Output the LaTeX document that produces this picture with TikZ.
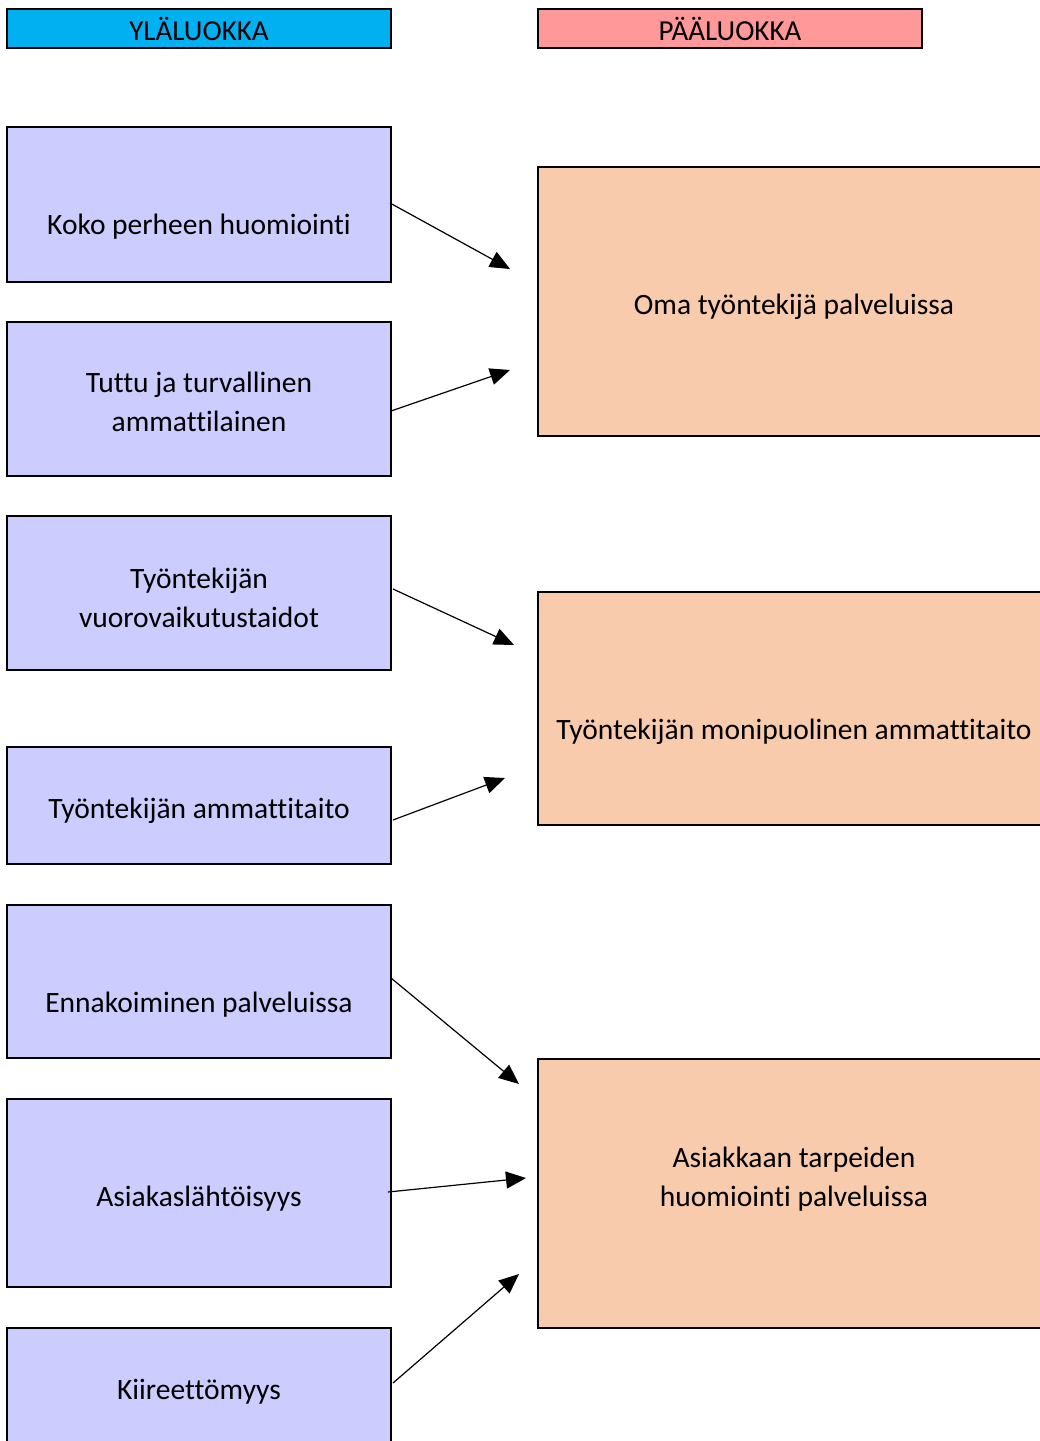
\documentclass[tikz,border=0pt]{standalone}
\usepackage{fontspec}
\setmainfont{Carlito}[Ligatures=NoCommon]
\usetikzlibrary{arrows.meta}
\definecolor{hdrL}{HTML}{00B0F0}
\definecolor{hdrR}{HTML}{FF9999}
\definecolor{lbox}{HTML}{CCCCFF}
\definecolor{rbox}{HTML}{F8CBAD}
\tikzset{
  hdr/.style={draw=black,line width=2pt,inner sep=0pt,minimum width=384pt,minimum height=39pt,font=\fontsize{29}{34}\selectfont},
  leftbox/.style={draw=black,line width=2pt,fill=lbox,inner sep=0pt,minimum width=384pt},
  rightbox/.style={draw=black,line width=2pt,fill=rbox,inner sep=0pt,minimum width=512pt},
  boxtext/.style={inner sep=0pt,align=center,font=\fontsize{29.5}{39}\selectfont},
  conn/.style={line width=1.2pt,-{Triangle[length=20pt,width=17pt]}}
}
\begin{document}
\begin{tikzpicture}[x=1pt,y=-1pt]
\useasboundingbox (0,0) rectangle (1040,1441);
% headers
\node[hdr,fill=hdrL] (h1) at (199,28.5) {YLÄLUOKKA};
\node[hdr,fill=hdrR] (h2) at (730,28.5) {PÄÄLUOKKA};
% left boxes
\node[leftbox,minimum height=155pt] (k1) at (199,204.5) {};
\node[leftbox,minimum height=154pt] (k2) at (199,399) {};
\node[leftbox,minimum height=154pt] (k3) at (199,593) {};
\node[leftbox,minimum height=117pt] (k4) at (199,805.5) {};
\node[leftbox,minimum height=153pt] (k5) at (199,981.5) {};
\node[leftbox,minimum height=188pt] (k6) at (199,1193) {};
\node[leftbox,minimum height=122pt] (k7) at (199,1389) {};
\node[boxtext] (t1) at (199,227) {Koko perheen huomiointi};
\node[boxtext] (t2) at (199,402) {Tuttu ja turvallinen\\ammattilainen};
\node[boxtext] (t3) at (199,597.5) {Työntekijän\\vuorovaikutustaidot};
\node[boxtext] (t4) at (199,810.5) {Työntekijän ammattitaito};
\node[boxtext] (t5) at (199,1004.5) {Ennakoiminen palveluissa};
\node[boxtext] (t6) at (199,1198.5) {Asiakaslähtöisyys};
\node[boxtext] (t7) at (199,1391.5) {Kiireettömyys};
% right boxes
\node[rightbox,minimum height=269pt] (p1) at (794,301.5) {};
\node[rightbox,minimum height=233pt] (p2) at (794,708.5) {};
\node[rightbox,minimum height=269pt] (p3) at (794,1193.5) {};
\node[boxtext] (q1) at (794,306.5) {Oma työntekijä palveluissa};
\node[boxtext] (q2) at (794,731.5) {Työntekijän monipuolinen ammattitaito};
\node[boxtext] (q3) at (794,1179) {Asiakkaan tarpeiden\\huomiointi palveluissa};
% arrow ends
\coordinate (e1) at (510,269);
\coordinate (e2) at (510,370);
\coordinate (e3) at (514,645);
\coordinate (e4) at (505,778);
\coordinate (e5) at (519,1084);
\coordinate (e6) at (526,1178);
\coordinate (e7) at (519,1274);
\draw[conn] ([shift={(-2,-1.5)}]k1.east) -- (e1);
\draw[conn] ([shift={(-1,12)}]k2.east) -- (e2);
\draw[conn] ([shift={(1,-4)}]k3.east) -- (e3);
\draw[conn] ([shift={(1,14.5)}]k4.east) -- (e4);
\draw[conn] ([shift={(-1,-3.5)}]k5.east) -- (e5);
\draw[conn] ([shift={(-4,-1)}]k6.east) -- (e6);
\draw[conn] ([shift={(1,-6)}]k7.east) -- (e7);
\end{tikzpicture}
\end{document}
